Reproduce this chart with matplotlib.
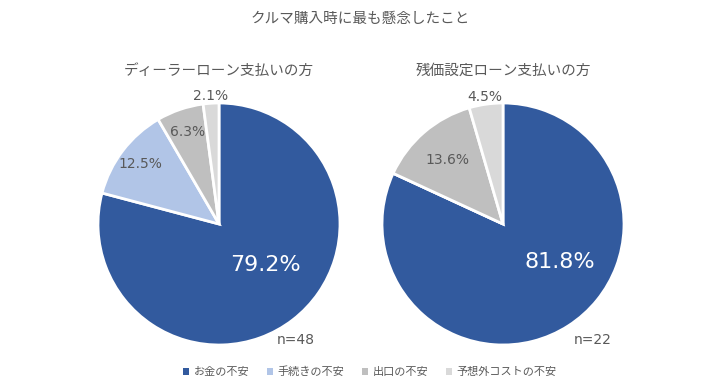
import matplotlib
matplotlib.use("Agg")
import matplotlib.pyplot as plt
from matplotlib.patches import Patch
import numpy as np

plt.rcParams['font.family'] = ['DejaVu Sans', 'Noto Sans CJK JP']

title = "クルマ購入時に最も懸念したこと"
categories = ["お金の不安", "手続きの不安", "出口の不安", "予想外コストの不安"]
colors = ["#325A9E", "#B1C5E7", "#BFBFBF", "#D9D9D9"]
left_title = "ディーラーローン支払いの方"
right_title = "残価設定ローン支払いの方"
left_values = [79.2, 12.5, 6.3, 2.1]
right_values = [81.8, 0.0, 13.6, 4.5]
left_n = "n=48"
right_n = "n=22"

W, H = 720, 387
fig = plt.figure(figsize=(W/100, H/100), dpi=100)
txtc = "#595959"

fig.text(360/W, 1-18/H, title, ha='center', va='center', fontsize=10.5, color=txtc)

def draw(cx, cy, r, vals, sub, ntxt, nx, big_pos, label_r):
    ax = fig.add_axes([(cx-r)/W, (H-cy-r)/H, 2*r/W, 2*r/H])
    wedges, _ = ax.pie(vals, colors=colors, startangle=90, counterclock=False,
                       wedgeprops=dict(edgecolor='white', linewidth=2))
    ax.set_xlim(-1, 1); ax.set_ylim(-1, 1); ax.set_aspect('equal')
    ax.axis('off')
    for i, (w, v) in enumerate(zip(wedges, vals)):
        if v <= 0:
            continue
        lab = f"{v:.1f}%"
        if i == 0:
            ax.text(big_pos[0], big_pos[1], lab, ha='center', va='center',
                    fontsize=16, color='white')
        else:
            ang = np.deg2rad((w.theta1 + w.theta2) / 2)
            rr = label_r[i]
            ax.text(rr*np.cos(ang), rr*np.sin(ang), lab, ha='center', va='center',
                    fontsize=10, color=txtc, clip_on=False)
    fig.text(cx/W, 1-70/H, sub, ha='center', va='center', fontsize=10.5, color=txtc)
    fig.text(nx/W, 1-340/H, ntxt, ha='center', va='center', fontsize=10, color=txtc)

draw(219, 224, 121, left_values, left_title, left_n, 296, (0.38, -0.34), [0, 0.82, 0.80, 1.06])
draw(503, 224, 121, right_values, right_title, right_n, 593, (0.47, -0.31), [0, 0.76, 0.70, 1.06])

handles = [Patch(facecolor=c, edgecolor='none') for c in colors]
fig.legend(handles, categories, loc='center', bbox_to_anchor=(370/W, 1-372/H), ncol=4,
           frameon=False, fontsize=8, handlelength=0.55, handleheight=0.55,
           handletextpad=0.4, columnspacing=1.6, labelcolor=txtc)

fig.savefig("out.png", dpi=100)
